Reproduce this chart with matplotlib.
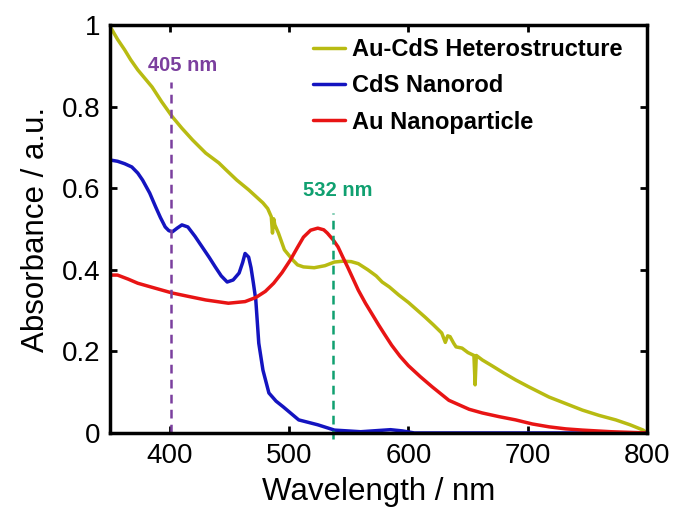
import numpy as np
import matplotlib
matplotlib.use("Agg")
from matplotlib import pyplot as plt
from matplotlib.ticker import FormatStrFormatter

plt.rcParams['font.family'] = ['Liberation Sans', 'DejaVu Sans']

# Au-CdS heterostructure
het_x = [350, 356, 362, 367, 373, 379, 385, 393, 402, 410, 419, 430, 441, 447, 456, 466,
         472, 478, 482, 485, 486, 487, 488, 491, 496, 503, 507, 512, 521, 530, 538, 545,
         552, 558, 566, 573, 578, 581, 584, 592, 600, 607, 614, 621, 628, 631, 633, 635,
         638, 640, 645, 650, 655, 656, 657, 662, 670, 680, 690, 701, 718, 732, 746, 760,
         774, 786, 797, 800]
het_y = [0.995, 0.965, 0.939, 0.915, 0.89, 0.869, 0.848, 0.812, 0.775, 0.747, 0.718, 0.686,
         0.662, 0.645, 0.62, 0.596, 0.58, 0.564, 0.55, 0.53, 0.49, 0.525, 0.51, 0.49, 0.449,
         0.424, 0.412, 0.407, 0.405, 0.41, 0.419, 0.421, 0.42, 0.415, 0.4, 0.385, 0.37,
         0.364, 0.358, 0.338, 0.32, 0.302, 0.284, 0.265, 0.245, 0.222, 0.238, 0.236, 0.22,
         0.211, 0.208, 0.197, 0.19, 0.118, 0.19, 0.179, 0.165, 0.147, 0.13, 0.113, 0.088,
         0.072, 0.056, 0.043, 0.032, 0.02, 0.007, 0.0]

# CdS nanorod
rod_x = [350, 356, 362, 368, 373, 377, 383, 388, 392, 396, 399, 402, 406, 410, 415, 421,
         427, 433, 438, 443, 448, 453, 458, 461, 463, 466, 468, 470, 472, 474.5, 478, 483,
         489, 495, 508, 524, 538, 560, 575, 585, 595, 605, 650, 800]
rod_y = [0.669, 0.666, 0.66, 0.652, 0.637, 0.62, 0.588, 0.554, 0.528, 0.505, 0.496, 0.493,
         0.502, 0.51, 0.505, 0.482, 0.456, 0.43, 0.407, 0.385, 0.37, 0.375, 0.392, 0.418,
         0.44, 0.431, 0.405, 0.367, 0.326, 0.22, 0.154, 0.098, 0.078, 0.064, 0.032, 0.02,
         0.007, 0.003, 0.006, 0.008, 0.005, 0.0, 0.0, 0.0]

# Au nanoparticle
np_x = [350, 356, 365, 373, 385, 402, 415, 430, 449, 463, 472, 480, 487, 494, 501, 507,
        512, 518, 524, 529, 532, 537, 541, 545, 549, 558, 564, 569, 575, 580, 586, 593,
        600, 610, 620, 634, 651, 662, 676, 690, 704, 718, 732, 746, 770, 800]
np_y = [0.387, 0.387, 0.377, 0.367, 0.357, 0.343, 0.335, 0.326, 0.318, 0.322, 0.332, 0.347,
        0.367, 0.393, 0.424, 0.455, 0.48, 0.497, 0.502, 0.498, 0.49, 0.473, 0.456, 0.431,
        0.407, 0.35, 0.318, 0.294, 0.265, 0.242, 0.215, 0.188, 0.165, 0.138, 0.113, 0.08,
        0.058, 0.049, 0.04, 0.032, 0.022, 0.015, 0.01, 0.007, 0.003, 0.0]

labels = ["Au-CdS Heterostructure", "CdS Nanorod", "Au Nanoparticle"]

fig = plt.figure(figsize=(6.73, 5.21), dpi=100)
ax = fig.add_axes([0.164, 0.169, 0.797, 0.783])

kw = dict(lw=2.5, solid_joinstyle='round', solid_capstyle='round')
ax.plot(het_x, het_y, color='#b8bb12', label=labels[0], **kw)
ax.plot(rod_x, rod_y, color='#1414c0', label=labels[1], **kw)
ax.plot(np_x, np_y, color='#e81414', label=labels[2], **kw)

ax.plot([401, 401], [0, 0.86], color='#7b3f9e', lw=1.8, ls=(0, (3.5, 2.5)))
ax.plot([537, 537], [-0.015, 0.54], color='#10a070', lw=1.8, ls=(0, (3.5, 2.5)), clip_on=False)
ax.text(411, 0.90, "405 nm", color='#7b3f9e', fontsize=14.5, fontweight='bold', ha='center', va='center')
ax.text(541, 0.595, "532 nm", color='#10a070', fontsize=14.5, fontweight='bold', ha='center', va='center')

ax.set_xlim(350, 800)
ax.set_ylim(0, 1)
ax.set_xticks([400, 500, 600, 700, 800])
ax.set_yticks([0, 0.2, 0.4, 0.6, 0.8, 1])
ax.yaxis.set_major_formatter(FormatStrFormatter('%g'))
ax.tick_params(direction='in', length=5, width=2, labelsize=20, top=True, right=True, pad=7)
for s in ax.spines.values():
    s.set_linewidth(2.5)

ax.set_xlabel("Wavelength / nm", fontsize=22.5, labelpad=6)
ax.set_ylabel("Absorbance / a.u.", fontsize=22.5, labelpad=8)

leg = ax.legend(loc='upper left', bbox_to_anchor=(0.377, 0.968), frameon=False,
                borderpad=0, borderaxespad=0, handlelength=1.36, handletextpad=0.3,
                labelspacing=0.56, prop={'size': 17, 'weight': 'bold'})

fig.savefig("out.png", dpi=100)
